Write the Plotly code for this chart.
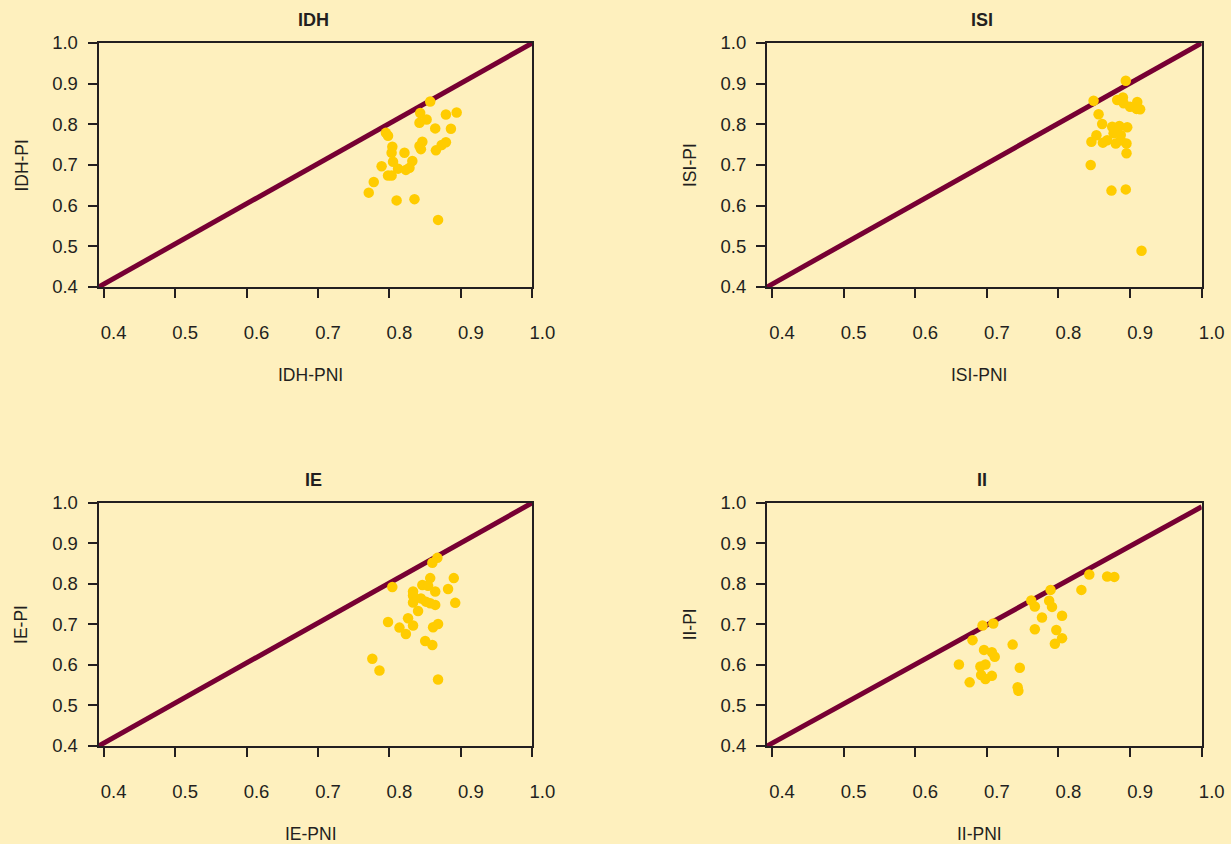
import plotly.graph_objects as go

# ---------------- data ----------------
panel_titles = ["IDH", "ISI", "IE", "II"]
x_titles = ["IDH-PNI", "ISI-PNI", "IE-PNI", "II-PNI"]
y_titles = ["IDH-PI", "ISI-PI", "IE-PI", "II-PI"]
tick_vals = [0.4, 0.5, 0.6, 0.7, 0.8, 0.9, 1.0]
tick_text = ["0.4", "0.5", "0.6", "0.7", "0.8", "0.9", "1.0"]

idh_pni = [0.857, 0.843, 0.852, 0.842, 0.879, 0.894, 0.864, 0.886, 0.795, 0.798,
           0.804, 0.803, 0.821, 0.846, 0.842, 0.844, 0.865, 0.873, 0.879, 0.805,
           0.832, 0.789, 0.812, 0.823, 0.828, 0.798, 0.803, 0.778, 0.771, 0.810,
           0.835, 0.868]
idh_pi = [0.856, 0.828, 0.812, 0.804, 0.824, 0.829, 0.790, 0.789, 0.779, 0.772,
          0.745, 0.730, 0.730, 0.757, 0.747, 0.739, 0.736, 0.749, 0.756, 0.708,
          0.710, 0.697, 0.691, 0.688, 0.693, 0.674, 0.674, 0.658, 0.632, 0.613,
          0.616, 0.565]

isi_pni = [0.894, 0.849, 0.882, 0.890, 0.891, 0.900, 0.910, 0.914, 0.909, 0.856,
           0.861, 0.875, 0.885, 0.896, 0.853, 0.846, 0.862, 0.868, 0.877, 0.887,
           0.880, 0.887, 0.895, 0.895, 0.845, 0.874, 0.894, 0.916]
isi_pi = [0.907, 0.858, 0.860, 0.866, 0.852, 0.843, 0.855, 0.837, 0.838, 0.825,
          0.801, 0.794, 0.796, 0.793, 0.773, 0.757, 0.755, 0.761, 0.778, 0.774,
          0.753, 0.761, 0.753, 0.729, 0.700, 0.637, 0.640, 0.489]

ie_pni = [0.867, 0.860, 0.804, 0.857, 0.890, 0.846, 0.854, 0.882, 0.864, 0.833,
          0.833, 0.844, 0.833, 0.851, 0.857, 0.864, 0.892, 0.840, 0.798, 0.826,
          0.833, 0.814, 0.823, 0.868, 0.861, 0.850, 0.860, 0.776, 0.786, 0.868]
ie_pi = [0.864, 0.852, 0.792, 0.814, 0.814, 0.797, 0.795, 0.787, 0.781, 0.781,
         0.771, 0.764, 0.754, 0.756, 0.752, 0.748, 0.753, 0.733, 0.706, 0.715,
         0.697, 0.692, 0.676, 0.701, 0.693, 0.659, 0.649, 0.615, 0.586, 0.564]

ii_pni = [0.843, 0.868, 0.878, 0.832, 0.789, 0.762, 0.767, 0.787, 0.791, 0.777,
          0.805, 0.767, 0.797, 0.805, 0.795, 0.694, 0.709, 0.680, 0.736, 0.696,
          0.707, 0.711, 0.661, 0.691, 0.698, 0.746, 0.692, 0.698, 0.707, 0.676,
          0.743, 0.744]
ii_pi = [0.823, 0.818, 0.817, 0.785, 0.785, 0.759, 0.744, 0.758, 0.743, 0.717,
         0.721, 0.688, 0.686, 0.666, 0.652, 0.697, 0.702, 0.661, 0.650, 0.637,
         0.631, 0.620, 0.601, 0.596, 0.601, 0.593, 0.575, 0.565, 0.573, 0.557,
         0.545, 0.536]

# reference (equality) lines
diag_x = [0.393, 1.0]
diag_y = [0.4, 1.0]
diag_ii_y = [0.4, 0.99]

pni_series = [idh_pni, isi_pni, ie_pni, ii_pni]
pi_series = [idh_pi, isi_pi, ie_pi, ii_pi]
diag_series = [diag_y, diag_y, diag_y, diag_ii_y]

# ---------------- style ----------------
W, H = 1231, 844
BG = "#FEF0BE"
GOLD = "#FFCC00"
MAROON = "#770033"
INK = "#231F20"
FONT = "Liberation Sans, Arial, sans-serif"

# plot-area pixel boxes (left, right, top, bottom)
boxes = [(98.6, 532.4, 43, 287), (767, 1201.7, 43, 287),
         (98.6, 532.4, 502.7, 746), (767, 1201.7, 502.7, 746)]

fig = go.Figure()
annotations = []
for i in range(4):
    n = "" if i == 0 else str(i + 1)
    l, r, t, b = boxes[i]
    fig.add_trace(go.Scatter(x=diag_x, y=diag_series[i], mode="lines",
                             line=dict(color=MAROON, width=5),
                             xaxis="x" + n, yaxis="y" + n, cliponaxis=False,
                             showlegend=False, hoverinfo="skip"))
    fig.add_trace(go.Scatter(x=pni_series[i], y=pi_series[i], mode="markers",
                             marker=dict(color=GOLD, size=10.5, line=dict(width=0)),
                             xaxis="x" + n, yaxis="y" + n, showlegend=False))
    axcommon = dict(showline=True, mirror=True, linecolor=INK, linewidth=2,
                    ticks="outside", ticklen=9, tickwidth=2, tickcolor=INK,
                    showgrid=False, zeroline=False, tickvals=tick_vals,
                    ticktext=tick_text, fixedrange=True, automargin=False,
                    tickfont=dict(family=FONT, size=18.5, color=INK))
    fig.update_layout(**{
        "xaxis" + n: dict(axcommon, domain=[l / W, r / W], range=[0.393, 1.0],
                          anchor="y" + n, ticklabelshift=10, ticklabelstandoff=19),
        "yaxis" + n: dict(axcommon, domain=[1 - b / H, 1 - t / H], range=[0.4, 1.0],
                          anchor="x" + n, ticklabelstandoff=6),
    })
    xd = "x" + n + " domain"
    yd = "y" + n + " domain"
    annotations.append(dict(text="<b>" + panel_titles[i] + "</b>", xref=xd, yref=yd,
                            x=0.5, y=1, xshift=-2, yshift=23, showarrow=False,
                            xanchor="center", yanchor="middle",
                            font=dict(family=FONT, size=18, color=INK)))
    annotations.append(dict(text=x_titles[i], xref=xd, yref=yd, x=0.5, y=0,
                            xshift=-5, yshift=-88, showarrow=False,
                            xanchor="center", yanchor="middle",
                            font=dict(family=FONT, size=17.5, color=INK)))
    annotations.append(dict(text=y_titles[i], xref=xd, yref=yd, x=0, y=0.5,
                            xshift=-77, yshift=0, showarrow=False, textangle=-90,
                            xanchor="center", yanchor="middle",
                            font=dict(family=FONT, size=17.5, color=INK)))

fig.update_layout(width=W, height=H, autosize=False,
                  margin=dict(l=0, r=0, t=0, b=0, autoexpand=False),
                  paper_bgcolor=BG, plot_bgcolor=BG,
                  annotations=annotations, showlegend=False)

page_fix = ("var s=document.createElement('style');"
            "s.textContent='html,body{margin:0;padding:0;overflow:hidden;background:" + BG + ";}';"
            "document.head.appendChild(s);")

fig.write_html("out.html", config={"displayModeBar": False}, post_script=page_fix)
